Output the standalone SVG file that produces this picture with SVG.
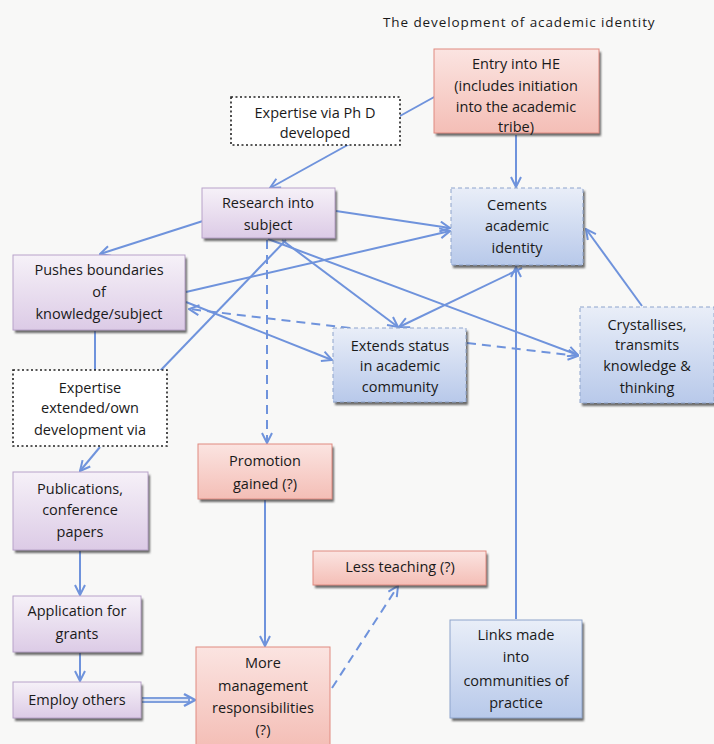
<svg xmlns="http://www.w3.org/2000/svg" width="714" height="744" viewBox="0 0 714 744">
  <defs>
    <style>
      .lbl { font-family: "Open Sans", "Liberation Sans", Arial, sans-serif; font-size: 14.5px; fill: #1a1a1a; text-anchor: middle; }
      .title { font-family: "Open Sans", "Liberation Sans", Arial, sans-serif; font-size: 13.5px; letter-spacing: 0.9px; fill: #1a1a1a; }
      .purple { fill: url(#gPurple); stroke: #b8a2c9; stroke-width: 1; }
      .red { fill: url(#gRed); stroke: #e08a80; stroke-width: 1; }
      .blue { fill: url(#gBlue); stroke: #8ea4cc; stroke-width: 1; stroke-dasharray: 4 3; }
      .blueSolid { fill: url(#gBlue); stroke: #8ea4cc; stroke-width: 1; }
      .dotted { fill: #ffffff; stroke: #222; stroke-width: 1.6; stroke-dasharray: 2 2.5; }
      .shadow { fill: #3a3a3a; opacity: 0.75; }
      .edge { stroke: #6f93dc; stroke-width: 2; fill: none; }
      .dash { stroke-dasharray: 9 6; }
    </style>
    <linearGradient id="gPurple" x1="0" y1="0" x2="0" y2="1">
      <stop offset="0" stop-color="#f6f1f8"/>
      <stop offset="1" stop-color="#dccbe6"/>
    </linearGradient>
    <linearGradient id="gRed" x1="0" y1="0" x2="0" y2="1">
      <stop offset="0" stop-color="#fbe4e1"/>
      <stop offset="1" stop-color="#f4beb6"/>
    </linearGradient>
    <linearGradient id="gBlue" x1="0" y1="0" x2="0" y2="1">
      <stop offset="0" stop-color="#e9eef8"/>
      <stop offset="1" stop-color="#b8c9ea"/>
    </linearGradient>
    <filter id="soft" x="-5%" y="-5%" width="110%" height="120%">
      <feGaussianBlur stdDeviation="1"/>
    </filter>
    <marker id="arr" viewBox="0 0 12 12" refX="11" refY="6" markerWidth="12" markerHeight="12" markerUnits="userSpaceOnUse" orient="auto-start-reverse">
      <path d="M1,1 L11,6 L1,11" fill="none" stroke="#6f93dc" stroke-width="2"/>
    </marker>
  </defs>

  <!-- page background -->
  <rect x="0" y="0" width="714" height="744" fill="#f8f8f7"/>

  <text class="title" x="383" y="27">The development of academic identity</text>

  <!-- connectors -->
  <g id="connectors">
    <line class="edge" x1="436" y1="96" x2="270" y2="188" marker-end="url(#arr)"/>
    <line class="edge" x1="516" y1="135" x2="516" y2="187" marker-end="url(#arr)"/>
    <line class="edge" x1="206" y1="220" x2="100" y2="254" marker-end="url(#arr)"/>
    <line class="edge" x1="336" y1="211" x2="450" y2="228" marker-end="url(#arr)"/>
    <line class="edge" x1="186" y1="292" x2="450" y2="231" marker-end="url(#arr)"/>
    <line class="edge" x1="282" y1="240" x2="398" y2="327" marker-end="url(#arr)"/>
    <line class="edge" x1="268" y1="239" x2="578" y2="355" marker-end="url(#arr)"/>
    <line class="edge" x1="186" y1="302" x2="332" y2="360" marker-end="url(#arr)"/>
    <line class="edge dash" x1="350" y1="328" x2="189" y2="309" marker-end="url(#arr)"/>
    <line class="edge" x1="160" y1="371" x2="286" y2="240"/>
    <line class="edge" x1="95" y1="331" x2="95" y2="370"/>
    <line class="edge" x1="100" y1="447" x2="80" y2="471" marker-end="url(#arr)"/>
    <line class="edge dash" x1="267" y1="240" x2="267" y2="443" marker-end="url(#arr)"/>
    <line class="edge" x1="80" y1="551" x2="80" y2="595" marker-end="url(#arr)"/>
    <line class="edge" x1="80" y1="653" x2="80" y2="681" marker-end="url(#arr)"/>
    <line class="edge" x1="265" y1="500" x2="265" y2="646" marker-end="url(#arr)"/>
    <line class="edge dash" x1="332" y1="688" x2="398" y2="586" marker-end="url(#arr)"/>
    <line class="edge" x1="516" y1="619" x2="516" y2="267" marker-end="url(#arr)"/>
    <line class="edge" x1="522" y1="268" x2="399" y2="327" marker-end="url(#arr)"/>
    <line class="edge dash" x1="467" y1="343" x2="578" y2="356" marker-end="url(#arr)"/>
    <line class="edge" x1="642" y1="306" x2="586" y2="229" marker-end="url(#arr)"/>
    <!-- hollow double-line arrow -->
    <line x1="142" y1="700" x2="190" y2="700" stroke="#7f9fdc" stroke-width="6"/>
    <line x1="142" y1="700" x2="188" y2="700" stroke="#dfe6f5" stroke-width="2"/>
    <path d="M184,694 L195,700 L184,706" fill="none" stroke="#6f93dc" stroke-width="2.5"/>
  </g>

  <!-- nodes -->
  <g id="entry-he">
    <rect class="shadow" x="436" y="52" width="165" height="84" filter="url(#soft)"/>
    <rect class="red" x="434" y="49" width="165" height="84"/>
    <text class="lbl" x="516" y="69">Entry into HE</text>
    <text class="lbl" x="516" y="91">(includes initiation</text>
    <text class="lbl" x="516" y="112">into the academic</text>
    <text class="lbl" x="516" y="132">tribe)</text>
  </g>

  <g id="expertise-phd">
    <rect class="dotted" x="231" y="97" width="169" height="48"/>
    <text class="lbl" x="315" y="118">Expertise via Ph D</text>
    <text class="lbl" x="315" y="138">developed</text>
  </g>

  <g id="research">
    <rect class="shadow" x="204" y="191" width="133" height="50" filter="url(#soft)"/>
    <rect class="purple" x="202" y="188" width="133" height="50"/>
    <text class="lbl" x="268" y="208">Research into</text>
    <text class="lbl" x="268" y="230">subject</text>
  </g>

  <g id="cements">
    <rect class="shadow" x="453" y="191" width="132" height="77" filter="url(#soft)"/>
    <rect class="blue" x="451" y="188" width="132" height="77"/>
    <text class="lbl" x="517" y="210">Cements</text>
    <text class="lbl" x="517" y="231">academic</text>
    <text class="lbl" x="517" y="253">identity</text>
  </g>

  <g id="pushes">
    <rect class="shadow" x="15" y="258" width="172" height="75" filter="url(#soft)"/>
    <rect class="purple" x="13" y="255" width="172" height="75"/>
    <text class="lbl" x="99" y="275">Pushes boundaries</text>
    <text class="lbl" x="99" y="297">of</text>
    <text class="lbl" x="99" y="319">knowledge/subject</text>
  </g>

  <g id="extends">
    <rect class="shadow" x="335" y="331" width="133" height="74" filter="url(#soft)"/>
    <rect class="blue" x="333" y="328" width="133" height="74"/>
    <text class="lbl" x="400" y="351">Extends status</text>
    <text class="lbl" x="400" y="371">in academic</text>
    <text class="lbl" x="400" y="392">community</text>
  </g>

  <g id="crystallises">
    <rect class="shadow" x="582" y="310" width="134" height="96" filter="url(#soft)"/>
    <rect class="blue" x="580" y="307" width="134" height="96"/>
    <text class="lbl" x="647" y="330">Crystallises,</text>
    <text class="lbl" x="647" y="350">transmits</text>
    <text class="lbl" x="647" y="371">knowledge &amp;</text>
    <text class="lbl" x="647" y="393">thinking</text>
  </g>

  <g id="expertise-extended">
    <rect class="dotted" x="13" y="370" width="154" height="76"/>
    <text class="lbl" x="90" y="393">Expertise</text>
    <text class="lbl" x="90" y="413">extended/own</text>
    <text class="lbl" x="90" y="435">development via</text>
  </g>

  <g id="promotion">
    <rect class="shadow" x="200" y="447" width="134" height="55" filter="url(#soft)"/>
    <rect class="red" x="198" y="444" width="134" height="55"/>
    <text class="lbl" x="265" y="466">Promotion</text>
    <text class="lbl" x="265" y="489">gained (?)</text>
  </g>

  <g id="publications">
    <rect class="shadow" x="15" y="475" width="135" height="78" filter="url(#soft)"/>
    <rect class="purple" x="13" y="472" width="135" height="78"/>
    <text class="lbl" x="80" y="494">Publications,</text>
    <text class="lbl" x="80" y="515">conference</text>
    <text class="lbl" x="80" y="537">papers</text>
  </g>

  <g id="less-teaching">
    <rect class="shadow" x="315" y="554" width="173" height="34" filter="url(#soft)"/>
    <rect class="red" x="313" y="551" width="173" height="34"/>
    <text class="lbl" x="400" y="572">Less teaching (?)</text>
  </g>

  <g id="grants">
    <rect class="shadow" x="15" y="599" width="128" height="56" filter="url(#soft)"/>
    <rect class="purple" x="13" y="596" width="128" height="56"/>
    <text class="lbl" x="77" y="616">Application for</text>
    <text class="lbl" x="77" y="639">grants</text>
  </g>

  <g id="links">
    <rect class="shadow" x="452" y="623" width="132" height="98" filter="url(#soft)"/>
    <rect class="blueSolid" x="450" y="620" width="132" height="98"/>
    <text class="lbl" x="516" y="640">Links made</text>
    <text class="lbl" x="516" y="662">into</text>
    <text class="lbl" x="516" y="686">communities of</text>
    <text class="lbl" x="516" y="708">practice</text>
  </g>

  <g id="management">
    <rect class="red" x="196" y="647" width="134" height="100"/>
    <text class="lbl" x="263" y="668">More</text>
    <text class="lbl" x="263" y="691">management</text>
    <text class="lbl" x="263" y="713">responsibilities</text>
    <text class="lbl" x="263" y="735">(?)</text>
  </g>

  <g id="employ">
    <rect class="shadow" x="15" y="685" width="128" height="36" filter="url(#soft)"/>
    <rect class="purple" x="13" y="682" width="128" height="36"/>
    <text class="lbl" x="77" y="705">Employ others</text>
  </g>
</svg>
